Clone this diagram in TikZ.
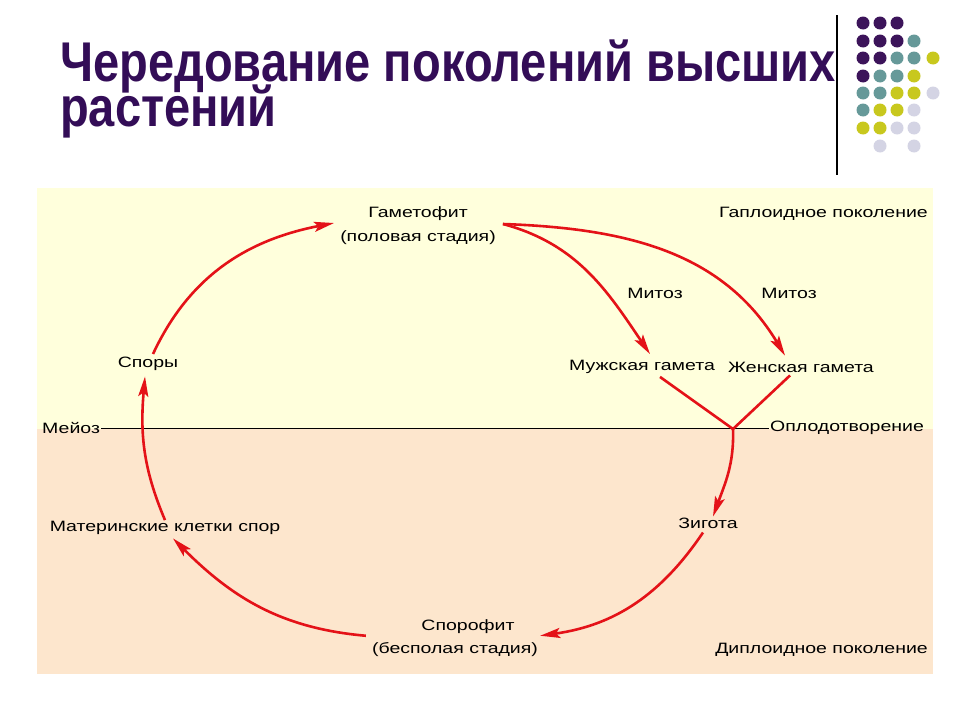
\documentclass[tikz,border=0pt]{standalone}
\usepackage{fontspec}
\setmainfont{Liberation Sans}
\newfontfamily\dfont{Liberation Sans}[FakeStretch=1.3]
\newfontfamily\tfont{Liberation Sans}[FakeStretch=0.84]
\usetikzlibrary{arrows.meta,calc}
\definecolor{titlecol}{RGB}{51,13,87}
\definecolor{hapcol}{RGB}{255,255,220}
\definecolor{dipcol}{RGB}{253,230,205}
\definecolor{arrred}{RGB}{228,18,24}
\definecolor{dP}{RGB}{60,20,90}
\definecolor{dT}{RGB}{102,153,153}
\definecolor{dY}{RGB}{200,200,30}
\definecolor{dL}{RGB}{212,212,228}
\begin{document}
\begin{tikzpicture}[x=1pt,y=-1pt,
  lbl/.style={font=\dfont\fontsize{15}{24}\selectfont, inner sep=1pt, text=black},
  ttl/.style={font=\tfont\bfseries\fontsize{56}{60}\selectfont, text=titlecol, anchor=base west, inner sep=0pt},
  arr/.style={draw=arrred, line width=2.6pt, -{Stealth[length=20pt,width=10pt,inset=4pt]}},
  seg/.style={draw=arrred, line width=2.6pt},
  dot/.style={circle, minimum size=13pt, inner sep=0pt}]
\useasboundingbox (0,0) rectangle (960,720);
\fill[white] (0,0) rectangle (960,720);
% title
\node[ttl] (t1) at (60,81) {Чередование поколений высших};
\node[ttl] (t2) at (60,126) {растений};
% decoration
\draw[line width=1.3pt] (837,15) -- (837,175);
\foreach \c/\r/\col in {863/23/dP,880/23/dP,897/23/dP,
  863/41/dP,880/41/dP,897/41/dP,914/41/dT,
  863/58/dP,880/58/dP,897/58/dT,914/58/dT,933/58/dY,
  863/76/dP,880/76/dT,897/76/dT,914/76/dY,
  863/93/dT,880/93/dT,897/93/dY,914/93/dY,933/93/dL,
  863/110/dT,880/110/dY,897/110/dY,914/110/dL,
  863/128/dY,880/128/dY,897/128/dL,914/128/dL,
  880/146/dL,914/146/dL}
  \fill[\col] (\c,\r) circle (6.5pt);
% panels
\fill[hapcol] (37,188) rectangle (933,429);
\fill[dipcol] (37,429) rectangle (933,674);
% labels
\node[lbl, align=center] (gam) at (418,226) {Гаметофит\\(половая стадия)};
\node[lbl, anchor=east] (hap) at (929,214) {Гаплоидное поколение};
\node[lbl] (mit1) at (655,293) {Митоз};
\node[lbl] (mit2) at (789,293) {Митоз};
\node[lbl] (male) at (642,367) {Мужская гамета};
\node[lbl] (female) at (801,367) {Женская гамета};
\node[lbl] (spores) at (148,364) {Споры};
\node[lbl, anchor=west] (meiosis) at (41,428) {Мейоз};
\node[lbl, anchor=west] (fert) at (769,428) {Оплодотворение};
\node[lbl] (mother) at (165,528) {Материнские клетки спор};
\node[lbl] (zyg) at (708,523) {Зигота};
\node[lbl] (sporo1) at (468,627) {Спорофит};
\node[lbl] (sporo2) at (455,650) {(бесполая стадия)};
\node[lbl, anchor=east] (dip) at (929,650) {Диплоидное поколение};
\coordinate (J) at (733,429);
% border line
\draw[line width=1pt] (meiosis.east) -- (fert.west);
% connectors
\draw[arr] ($(spores.north)+(5,-2)$) to[out=65,in=191] ($(gam.west)+(-5,-3)$);
\draw[arr] ($(gam.east)+(6,-2)$) to[out=-15,in=124] ($(male.north)+(8,-5)$);
\draw[arr] ($(gam.east)+(6,-2)$) to[out=-2,in=121] ($(female.north)+(-16,-5)$);
\draw[seg] ($(male.south)+(18,2)$) -- (J);
\draw[seg] ($(female.south)+(-11,2)$) -- (J);
\draw[arr] (J) to[out=-88,in=70] ($(zyg.north)+(5,0)$);
\draw[arr] ($(zyg.south)+(-5,3)$) to[out=236,in=8] ($(sporo2.north east)+(1,-6)$);
\draw[arr] ($(sporo2.north west)+(-5,-6)$) to[out=175,in=-45] ($(mother.south)+(8,2.5)$);
\draw[arr] ($(mother.north)+(0,0)$) to[out=113,in=-95] ($(spores.south)+(-3,4.5)$);
\end{tikzpicture}
\end{document}
